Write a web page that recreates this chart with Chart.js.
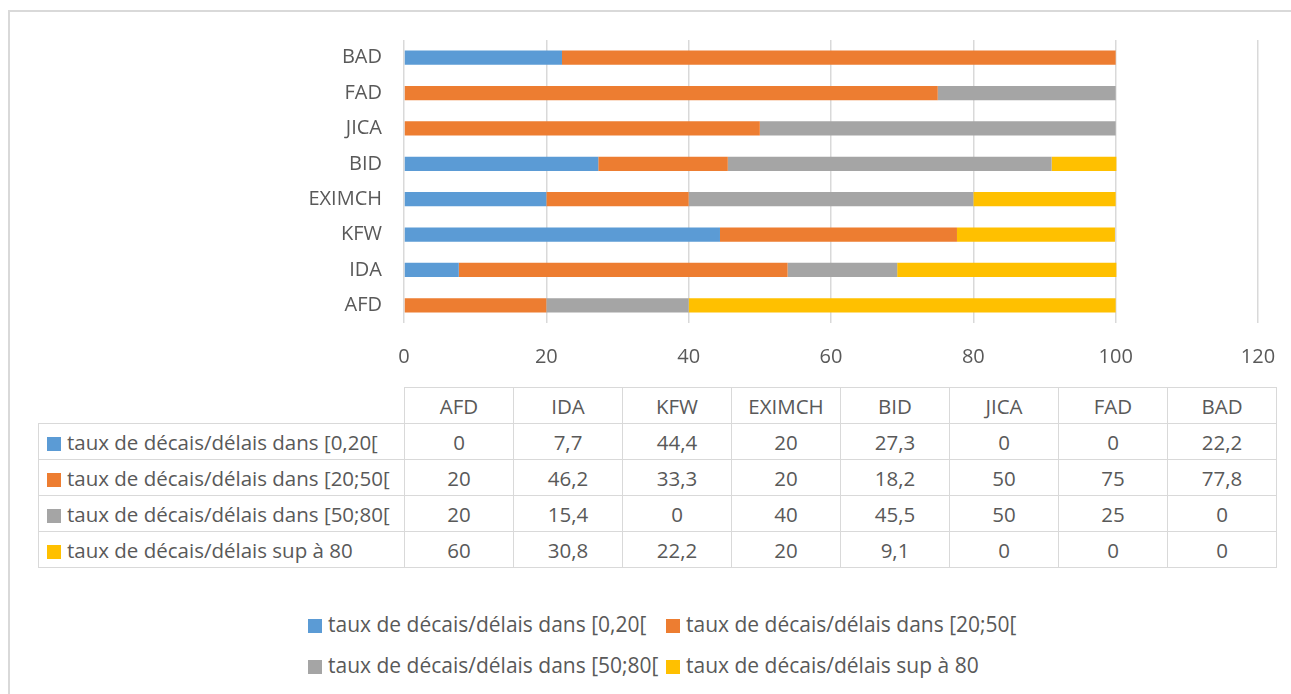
<!DOCTYPE html>
<html>
<head>
<meta charset="utf-8">
<script src="https://cdn.jsdelivr.net/npm/chart.js@4.4.1/dist/chart.umd.min.js"></script>
<style>
  html, body { margin: 0; padding: 0; background: #fff; }
  body { width: 1291px; height: 694px; position: relative; overflow: hidden;
         font-family: "Open Sans", "Liberation Sans", sans-serif; color: #595959; }
  .frame { position: absolute; left: 8px; top: 10px; width: 1400px; height: 800px;
           border: 2px solid #d9d9d9; box-sizing: border-box; }
  #chart { position: absolute; left: 0; top: 0; }
  table.dt { position: absolute; left: 38px; top: 387px; border-collapse: collapse;
             font-size: 20.5px; table-layout: fixed; }
  table.dt td { border: 1.5px solid #d9d9d9; height: 35px; padding: 0; text-align: center;
                white-space: nowrap; width: 108px; }
  table.dt td.rh { width: 357px; text-align: left; padding-left: 8px; }
  table.dt tr.head td.blank { border-top: none; border-left: none; }
  .sw { display: inline-block; width: 14px; height: 14px; margin-right: 6px; vertical-align: -1px; }
  .legend { position: absolute; left: 308px; top: 610px; font-size: 21px;
            display: grid; grid-template-columns: 358px auto; row-gap: 12px; }
  .legend span.item { white-space: nowrap; line-height: 29px; }
</style>
</head>
<body>
<div class="frame"></div>
<canvas id="chart" width="1291" height="380"></canvas>
<table class="dt" id="dt"></table>
<div class="legend" id="legend"></div>
<script>
// categories (bottom to top in the chart, left to right in the table)
const banks = ['AFD', 'IDA', 'KFW', 'EXIMCH', 'BID', 'JICA', 'FAD', 'BAD'];

// series names
const seriesNames = [
  'taux de décais/délais dans [0,20[',
  'taux de décais/délais dans [20;50[',
  'taux de décais/délais dans [50;80[',
  'taux de décais/délais sup à 80'
];

// values per series, in bank order
const tranche0_20 = [0, 7.7, 44.4, 20, 27.3, 0, 0, 22.2];
const tranche20_50 = [20, 46.2, 33.3, 20, 18.2, 50, 75, 77.8];
const tranche50_80 = [20, 15.4, 0, 40, 45.5, 50, 25, 0];
const trancheSup80 = [60, 30.8, 22.2, 20, 9.1, 0, 0, 0];

const xTicks = [0, 20, 40, 60, 80, 100, 120];

const colors = ['#5B9BD5', '#ED7D31', '#A5A5A5', '#FFC000'];
const seriesValues = [tranche0_20, tranche20_50, tranche50_80, trancheSup80];

const FONT = '"Open Sans", "Liberation Sans", sans-serif';
const TEXT = '#595959';

new Chart(document.getElementById('chart'), {
  type: 'bar',
  data: {
    labels: banks,
    datasets: seriesValues.map((vals, i) => ({
      label: seriesNames[i],
      data: vals,
      backgroundColor: colors[i],
      borderWidth: 0,
      barPercentage: 0.4,
      categoryPercentage: 1
    }))
  },
  options: {
    indexAxis: 'y',
    responsive: false,
    animation: false,
    layout: { padding: { top: 40, right: 33, left: 0, bottom: 0 } },
    plugins: { legend: { display: false }, tooltip: { enabled: false } },
    scales: {
      x: {
        stacked: true,
        min: 0,
        max: 120,
        afterBuildTicks: s => { s.ticks = xTicks.map(v => ({ value: v })); },
        // fixed height, and no extra side padding for the "120" label
        afterFit: s => { s.height = 57; s.paddingRight = 0; s.paddingLeft = 0; },
        grid: { color: '#d9d9d9', lineWidth: 1.5, drawTicks: false },
        border: { display: false },
        ticks: { padding: 22, color: TEXT, font: { family: FONT, size: 20 } }
      },
      y: {
        stacked: true,
        reverse: true,
        afterFit: s => { s.width = 404; },
        grid: { display: false, drawTicks: false },
        border: { display: false },
        ticks: { padding: 22, color: TEXT, font: { family: FONT, size: 20 } }
      }
    }
  }
});

// data table under the chart
const fmt = v => String(v).replace('.', ',');
const dt = document.getElementById('dt');
let html = '<tr class="head"><td class="rh blank"></td>' + banks.map(b => `<td>${b}</td>`).join('') + '</tr>';
seriesValues.forEach((vals, i) => {
  html += `<tr><td class="rh"><span class="sw" style="background:${colors[i]}"></span>${seriesNames[i]}</td>` +
    vals.map(v => `<td>${fmt(v)}</td>`).join('') + '</tr>';
});
dt.innerHTML = html;

// legend
document.getElementById('legend').innerHTML = seriesNames.map((n, i) =>
  `<span class="item"><span class="sw" style="background:${colors[i]}"></span>${n}</span>`).join('');
</script>
</body>
</html>
